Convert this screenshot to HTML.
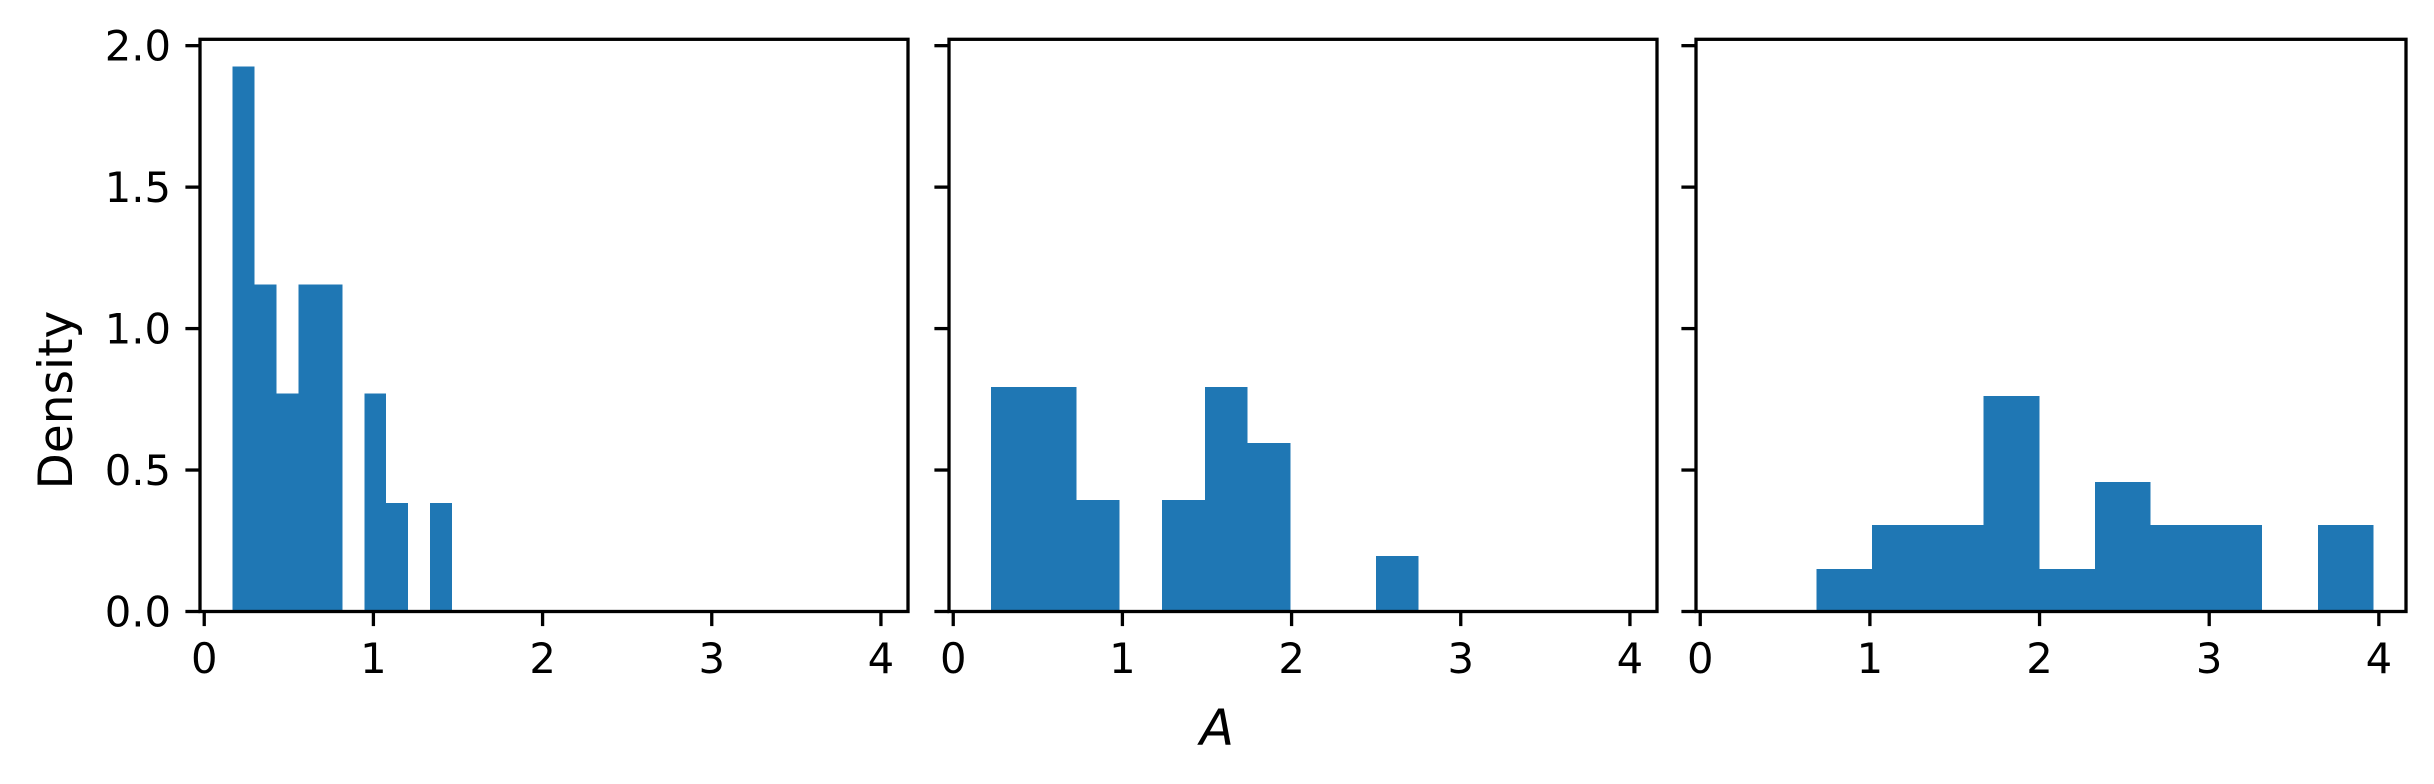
<!DOCTYPE html>
<html><head><meta charset="utf-8"><style>
html,body{margin:0;padding:0;background:#fff;}
svg{display:block;font-family:"DejaVu Sans","Liberation Sans",sans-serif;}
</style></head><body>
<svg id="chart" width="2434" height="784" viewBox="0 0 2434 784" xmlns="http://www.w3.org/2000/svg">
<rect width="2434" height="784" fill="#fff"/>
<text x="0" y="0" transform="translate(72,400) rotate(-90)" text-anchor="middle" font-size="47">Density</text>
<text x="1217" y="745" text-anchor="middle" font-size="50" font-style="italic">A</text>
</svg>
<script>
const xTicks = [0, 1, 2, 3, 4];
const yTicks = [0, 0.5, 1.0, 1.5, 2.0];
const yTickLabels = ["0.0", "0.5", "1.0", "1.5", "2.0"];
const p1Start = 0.168, p1Width = 0.1297;
const p1Values = [1.927, 1.156, 0.770, 1.156, 1.156, 0, 0.770, 0.384, 0, 0.384];
const p2Start = 0.223, p2Width = 0.2528;
const p2Values = [0.793, 0.793, 0.394, 0, 0.394, 0.793, 0.596, 0, 0, 0.196];
const p3Start = 0.685, p3Width = 0.3284;
const p3Values = [0.150, 0.306, 0.306, 0.762, 0.150, 0.458, 0.306, 0.306, 0, 0.306];

(function () {
const NS = "http://www.w3.org/2000/svg";
const svg = document.getElementById('chart');
const plotTop = 39.3, plotBottom = 611.5;
const xMin = -0.025, xMax = 4.16, yMax = 2.0225;
const panels = [
  {left: 200, right: 908, start: p1Start, width: p1Width, values: p1Values, labels: true},
  {left: 949, right: 1657, start: p2Start, width: p2Width, values: p2Values, labels: false},
  {left: 1696, right: 2406, start: p3Start, width: p3Width, values: p3Values, labels: false}
];
function mk(tag, attrs) {
  const e = document.createElementNS(NS, tag);
  for (const k in attrs) e.setAttribute(k, attrs[k]);
  svg.appendChild(e);
  return e;
}
panels.forEach((p) => {
  const xs = v => p.left + (v - xMin) / (xMax - xMin) * (p.right - p.left);
  const ys = v => plotBottom - v / yMax * (plotBottom - plotTop);
  p.values.forEach((v, i) => {
    if (v <= 0) return;
    const x0 = xs(p.start + i * p.width), x1 = xs(p.start + (i + 1) * p.width);
    const r = mk('rect', {x: x0, y: ys(v), width: x1 - x0, height: ys(0) - ys(v), fill: '#1f77b4', 'shape-rendering': 'crispEdges'});
    
    
  });
  const frame = mk('rect', {x: p.left, y: plotTop, width: p.right - p.left, height: plotBottom - plotTop, fill: 'none', stroke: '#000', 'stroke-width': 3.3});
  
  
  xTicks.forEach(t => {
    const x = xs(t);
    const tk = mk('line', {x1: x, x2: x, y1: plotBottom, y2: plotBottom + 14.6, stroke: '#000', 'stroke-width': 3.3});
    
    
    const lb = mk('text', {x: x, y: 673, 'text-anchor': 'middle', 'font-size': 41.7});
    lb.textContent = String(t);
    
    
  });
  yTicks.forEach((t, i) => {
    const y = ys(t);
    const tk = mk('line', {x1: p.left - 14.6, x2: p.left, y1: y, y2: y, stroke: '#000', 'stroke-width': 3.3});
    
    
    if (p.labels) {
      const lb = mk('text', {x: p.left - 29, y: y + 15, 'text-anchor': 'end', 'font-size': 41.7});
      lb.textContent = yTickLabels[i];
      
      
    }
  });
});
})();
</script>
</body></html>
